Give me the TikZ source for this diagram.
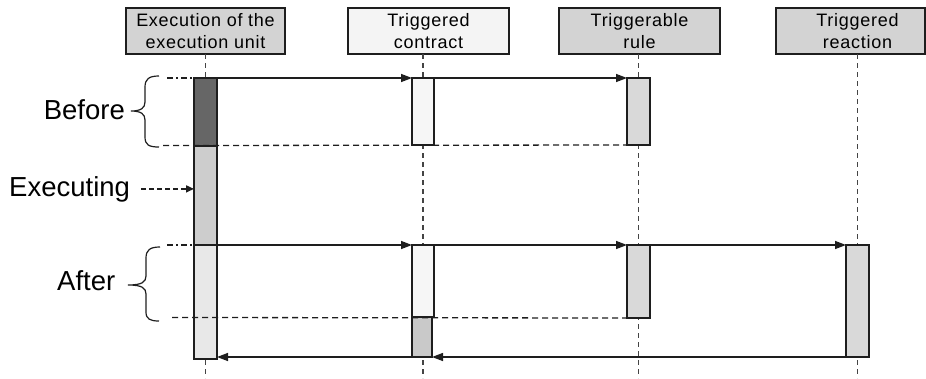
\documentclass[tikz,border=0pt]{standalone}
\usepackage{fontspec}
\setmainfont{Liberation Sans}
\newfontfamily\headfont[LetterSpace=4]{Liberation Sans}
\usetikzlibrary{arrows.meta}

\definecolor{linec}{HTML}{1E1E1E}
\definecolor{lifec}{HTML}{444444}
\definecolor{boxg}{HTML}{D3D3D3}
\definecolor{boxpale}{HTML}{F4F4F4}
\definecolor{bardark}{HTML}{666666}
\definecolor{barmid}{HTML}{CDCDCD}
\definecolor{barlight}{HTML}{E8E8E8}
\definecolor{barpale}{HTML}{F6F6F6}
\definecolor{bardim}{HTML}{C9C9C9}
\definecolor{barg}{HTML}{D9D9D9}

\begin{document}
\begin{tikzpicture}[x=1pt,y=-1pt,
  head/.style={draw=linec, line width=1.6pt, minimum height=46pt, inner sep=0pt,
    outer sep=0pt, font=\headfont\fontsize{18}{22}\selectfont, align=center},
  headtext/.style={inner sep=0pt, font=\headfont\fontsize{18}{22}\selectfont, align=center},
  bar/.style={draw=linec, line width=1.6pt, inner sep=0pt, outer sep=0pt,
    minimum width=23pt, anchor=north},
  life/.style={draw=lifec, line width=1.5pt, dash pattern=on 5pt off 4pt},
  msg/.style={draw=linec, line width=1.4pt, -{Triangle[length=11pt,width=8pt]}},
  dashline/.style={draw=linec, line width=1.3pt, dash pattern=on 6pt off 4pt},
  dashdotline/.style={draw=linec, line width=1.3pt, dash pattern=on 6pt off 3pt on 2pt off 3pt},
  brace/.style={draw=linec, line width=1.2pt},
  phase/.style={inner sep=0pt, font=\fontsize{27.5}{33}\selectfont},
  pointer/.style={draw=linec, line width=1.5pt, dash pattern=on 5pt off 3pt,
    -{Triangle[length=8pt,width=7pt]}}]

\useasboundingbox (0,0) rectangle (926,378);
\coordinate (bottom) at (0,378);

% header boxes of the four lifelines
\node[head, fill=boxg, minimum width=159pt] (h1) at (205.5,31) {Execution of the\\execution unit};
\node[head, fill=boxpale, minimum width=161pt] (h2) at (428.5,31) {Triggered\\contract};
\node[head, fill=boxg, minimum width=161pt] (h3) at (639.5,31) {Triggerable\\rule};
\node[head, fill=boxg, minimum width=149pt] (h4) at (850.5,31) {};
\node[headtext] (h4t) at (857.5,31) {Triggered\\reaction};

% lifelines
\draw[life] (h1.south) -- (h1.south |- bottom);
\draw[life] (423,54) -- (423,378);
\draw[life] (638.5,54) -- (638.5,378);
\draw[life] (857.5,54) -- (857.5,378);

% activation bars
\node[bar, fill=bardark, minimum height=68pt] (b1a) at (205.5,78) {};
\node[bar, fill=barmid, minimum height=99pt] (b1b) at (205.5,146) {};
\node[bar, fill=barlight, minimum height=114pt] (b1c) at (205.5,245) {};
\node[bar, fill=barpale, minimum height=67pt, minimum width=22pt] (b2a) at (423,78) {};
\node[bar, fill=barpale, minimum height=72pt, minimum width=22pt] (b2b) at (423,245) {};
\node[bar, fill=bardim, minimum height=40pt, minimum width=20pt] (b2c) at (422,317) {};
\node[bar, fill=barg, minimum height=67pt] (b3a) at (638.5,78) {};
\node[bar, fill=barg, minimum height=73pt] (b3b) at (638.5,245) {};
\node[bar, fill=barg, minimum height=112pt] (b4) at (857.5,245) {};

% messages
\draw[msg] (b1a.north east) -- (b2a.north west);
\draw[msg] (b2a.north east) -- (b3a.north west);
\draw[msg] (b1c.north east) -- (b2b.north west);
\draw[msg] (b2b.north east) -- (b3b.north west);
\draw[msg] (b3b.north east) -- (b4.north west);
\draw[msg] (b4.south west) -- (b2c.south east);
\draw[msg] (b2c.south west) -- (b2c.south west -| b1c.east);

% phase boundaries
\coordinate (beforeTop) at (167,78);
\coordinate (beforeEnd) at (163,145.5);
\coordinate (afterTop) at (167,245);
\coordinate (afterEnd) at (172,317.5);
\draw[dashdotline] (beforeTop) -- (b1a.north west);
\draw[dashline] (beforeEnd) -- (b3a.south west);
\draw[dashdotline] (afterTop) -- (b1c.north west);
\draw[dashline] (afterEnd) -- (b3b.south west);

% braces
\draw[brace] (159,76) .. controls (149,76) and (145,79) .. (145,87) -- (145,102)
  .. controls (145,108) and (141,111) .. (131,111)
  .. controls (141,111) and (145,114) .. (145,120) -- (145,137)
  .. controls (145,145) and (149,147) .. (159,147);
\draw[brace] (160,247) .. controls (150,247) and (146,250) .. (146,258) -- (146,276)
  .. controls (146,282) and (142,285) .. (128,285)
  .. controls (142,285) and (146,288) .. (146,294) -- (146,312)
  .. controls (146,319) and (150,321) .. (159,321);

% phase labels
\node[phase, anchor=base east] (before) at (125,119) {Before};
\node[phase, anchor=base west] (exe) at (9,196) {Executing};
\node[phase, anchor=base west] (after) at (57,290) {After};
\draw[pointer] ([xshift=11pt]exe.east) -- (exe.east -| b1b.west);

\end{tikzpicture}
\end{document}
